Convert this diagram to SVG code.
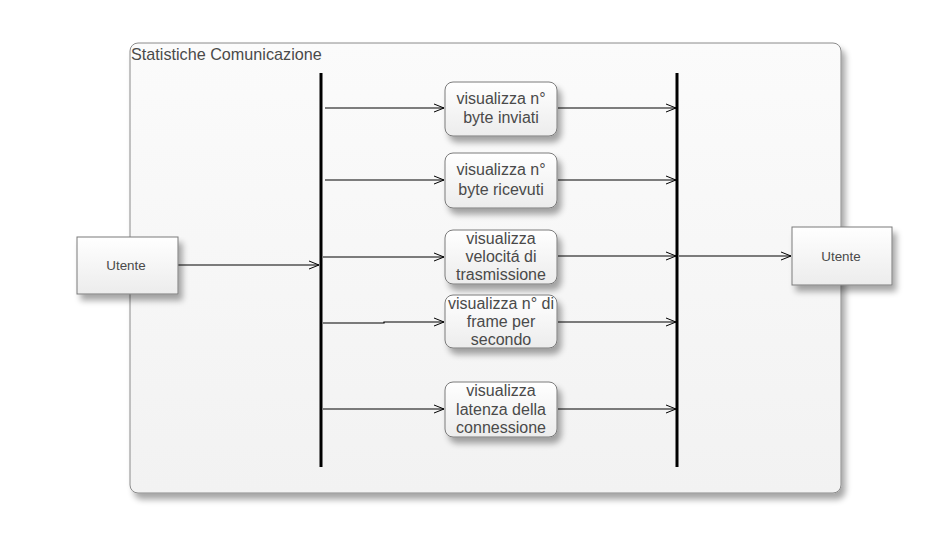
<svg xmlns="http://www.w3.org/2000/svg" width="944" height="556" viewBox="0 0 944 556">
<style>
.lbl{font-family:"Liberation Sans",Arial,sans-serif;font-size:16px;fill:#4a4a4a;text-anchor:middle}
.sm{font-family:"Liberation Sans",Arial,sans-serif;font-size:13.4px;fill:#4a4a4a;text-anchor:middle}
.title{font-family:"Liberation Sans",Arial,sans-serif;font-size:16.2px;fill:#4a4a4a}
.node{fill:url(#g);stroke:#7a7a7a;stroke-width:1}
.conn{fill:none;stroke:#000;stroke-width:1.2}
.bar{stroke:#000;stroke-width:3}
</style>
<defs>
<linearGradient id="g" x1="0" y1="0" x2="0" y2="1"><stop offset="0" stop-color="#ffffff"/><stop offset="1" stop-color="#ececec"/></linearGradient>
<linearGradient id="gc" x1="0" y1="0" x2="0" y2="1"><stop offset="0" stop-color="#fbfbfb"/><stop offset="1" stop-color="#f2f2f2"/></linearGradient>
<filter id="sh" x="-10%" y="-10%" width="130%" height="140%"><feGaussianBlur in="SourceAlpha" stdDeviation="3"/><feOffset dx="4" dy="6" result="b"/><feComponentTransfer><feFuncA type="linear" slope="0.35"/></feComponentTransfer><feMerge><feMergeNode/><feMergeNode in="SourceGraphic"/></feMerge></filter>
<marker id="a" markerWidth="12" markerHeight="10" refX="11" refY="5" orient="auto" markerUnits="userSpaceOnUse"><path d="M1,1 L11,5 L1,9" fill="none" stroke="#000" stroke-width="1"/></marker>
</defs>
<rect width="944" height="556" fill="#fff"/>
<g id="container">
<rect x="130" y="43" width="711" height="450" rx="8" fill="url(#gc)" stroke="#8a8a8a" filter="url(#sh)"/>
<text class="title" x="131" y="60">Statistiche Comunicazione</text>
</g>
<g id="bars">
<line class="bar" x1="321" y1="73" x2="321" y2="467"/>
<line class="bar" x1="677" y1="73" x2="677" y2="467"/>
</g>
<g id="connectors">
<line class="conn" x1="178" y1="265" x2="319" y2="265" marker-end="url(#a)"/>
<line class="conn" x1="325" y1="108" x2="444" y2="108" marker-end="url(#a)"/>
<line class="conn" x1="325" y1="180" x2="444" y2="180" marker-end="url(#a)"/>
<line class="conn" x1="323" y1="257" x2="444" y2="257" marker-end="url(#a)"/>
<polyline class="conn" points="323,323 384,323 384,322 444,322" marker-end="url(#a)"/>
<line class="conn" x1="323" y1="409" x2="444" y2="409" marker-end="url(#a)"/>
<line class="conn" x1="558" y1="108" x2="676" y2="108" marker-end="url(#a)"/>
<line class="conn" x1="558" y1="180" x2="676" y2="180" marker-end="url(#a)"/>
<line class="conn" x1="558" y1="256" x2="676" y2="256" marker-end="url(#a)"/>
<line class="conn" x1="558" y1="322" x2="676" y2="322" marker-end="url(#a)"/>
<line class="conn" x1="558" y1="409" x2="676" y2="409" marker-end="url(#a)"/>
<line class="conn" x1="679" y1="256" x2="791" y2="256" marker-end="url(#a)"/>
</g>
<g id="utente-left">
<rect class="node" x="77" y="237" width="101" height="57" filter="url(#sh)"/>
<text class="sm" x="126" y="270">Utente</text>
</g>
<g id="utente-right">
<rect class="node" x="792" y="227" width="100" height="58" filter="url(#sh)"/>
<text class="sm" x="841" y="261">Utente</text>
</g>
<g id="n1">
<rect class="node" x="445" y="82" width="112" height="54" rx="8" filter="url(#sh)"/>
<text class="lbl" x="501" y="104">visualizza n°</text>
<text class="lbl" x="501" y="123">byte inviati</text>
</g>
<g id="n2">
<rect class="node" x="445" y="153" width="112" height="55" rx="8" filter="url(#sh)"/>
<text class="lbl" x="501" y="175">visualizza n°</text>
<text class="lbl" x="501" y="195">byte ricevuti</text>
</g>
<g id="n3">
<rect class="node" x="445" y="230" width="112" height="54" rx="8" filter="url(#sh)"/>
<text class="lbl" x="501" y="244">visualizza</text>
<text class="lbl" x="501" y="262">velocitá di</text>
<text class="lbl" x="501" y="280">trasmissione</text>
</g>
<g id="n4">
<rect class="node" x="445" y="295" width="112" height="53" rx="8" filter="url(#sh)"/>
<text class="lbl" x="501" y="309">visualizza n° di</text>
<text class="lbl" x="501" y="327">frame per</text>
<text class="lbl" x="501" y="345">secondo</text>
</g>
<g id="n5">
<rect class="node" x="445" y="382" width="112" height="55" rx="8" filter="url(#sh)"/>
<text class="lbl" x="501" y="396">visualizza</text>
<text class="lbl" x="501" y="415">latenza della</text>
<text class="lbl" x="501" y="433">connessione</text>
</g>
</svg>
